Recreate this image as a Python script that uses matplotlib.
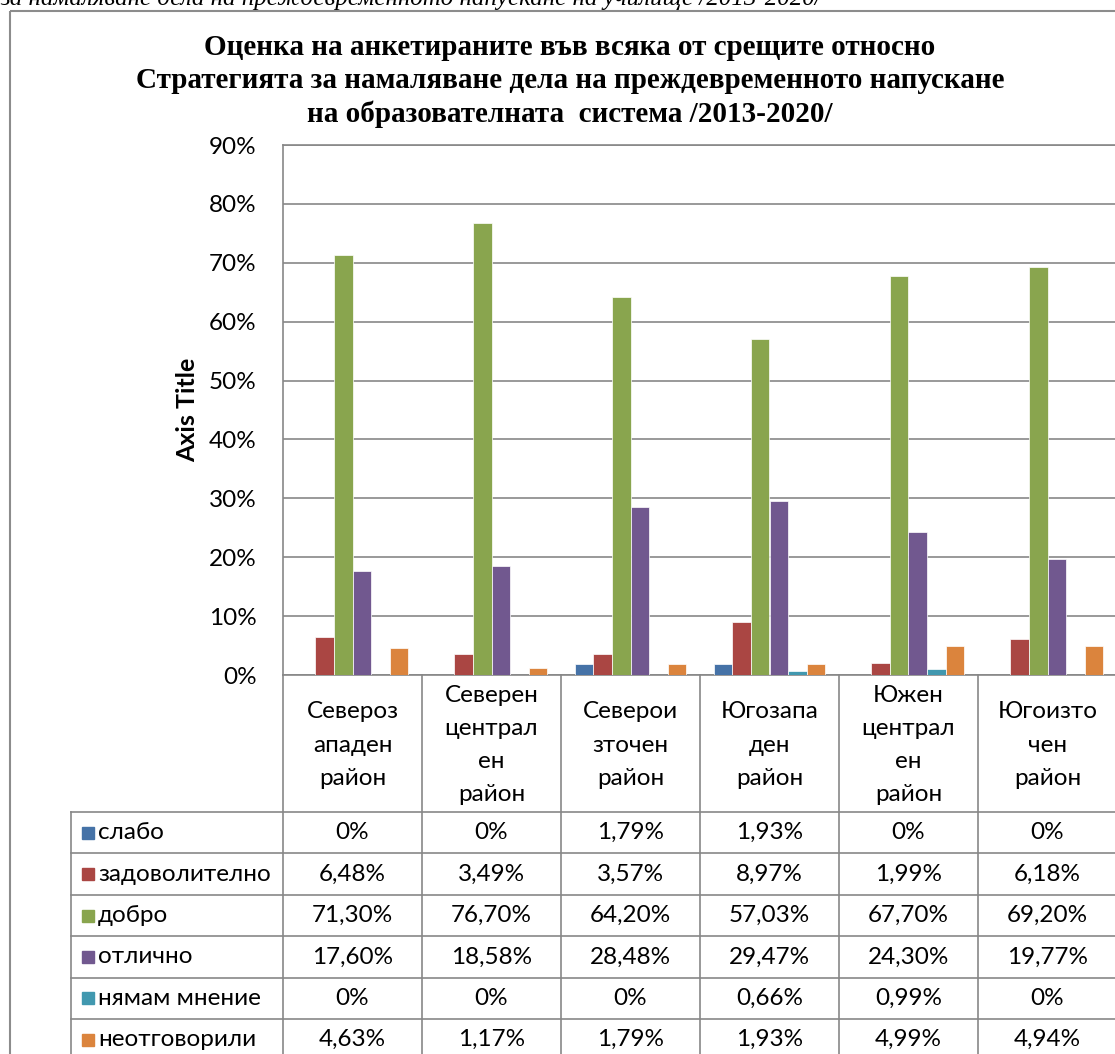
import matplotlib
matplotlib.use('Agg')
import matplotlib.pyplot as plt
from matplotlib.patches import Rectangle
import numpy as np

# данни
regions = ['Североз\nападен\nрайон', 'Северен\nцентрал\nен\nрайон', 'Северои\nзточен\nрайон',
           'Югозапа\nден\nрайон', 'Южен\nцентрал\nен\nрайон', 'Югоизто\nчен\nрайон']
series_names = ['слабо', 'задоволително', 'добро', 'отлично', 'нямам мнение', 'неотговорили']
slabo = [0, 0, 1.79, 1.93, 0, 0]
zadovolitelno = [6.48, 3.49, 3.57, 8.97, 1.99, 6.18]
dobro = [71.30, 76.70, 64.20, 57.03, 67.70, 69.20]
otlichno = [17.60, 18.58, 28.48, 29.47, 24.30, 19.77]
nyamam_mnenie = [0, 0, 0, 0.66, 0.99, 0]
neotgovorili = [4.63, 1.17, 1.79, 1.93, 4.99, 4.94]
series = [slabo, zadovolitelno, dobro, otlichno, nyamam_mnenie, neotgovorili]
yticks = [0, 10, 20, 30, 40, 50, 60, 70, 80, 90]
colors = ['#4572A7', '#AA4643', '#89A54E', '#71588F', '#4198AF', '#DB843D']

title = ('Оценка на анкетираните във всяка от срещите относно\n'
         'Стратегията за намаляване дела на преждевременното напускане\n'
         'на образователната  система /2013-2020/')
caption = 'за намаляване дела на преждевременното напускане на училище /2013-2020/'

SANS = ['Lato', 'DejaVu Sans']
SERIF = ['Liberation Serif', 'DejaVu Serif']
GRID = '#878787'
FS = 17.5

W, H = 1115, 1054
fig = plt.figure(figsize=(W / 100, H / 100), dpi=100)

def fx(px):
    return px / W

def fy(py):
    return 1 - py / H

# layout in pixels
x0, x1 = 283, 1117
ytop, ybot = 145, 675
ax = fig.add_axes([fx(x0), fy(ybot), fx(x1) - fx(x0), fy(ytop) - fy(ybot)])

n = len(regions)
x = np.arange(n)
w = 1 / 7.5
for k, vals in enumerate(series):
    ax.bar(x + (k - 2.5) * w, vals, w, color=colors[k], edgecolor='#ffffff',
           linewidth=0.5, zorder=3)

ax.set_xlim(-0.5, n - 0.5)
ax.set_ylim(0, 90)
ax.set_yticks(yticks)
ax.set_yticklabels([f'{t}%' for t in yticks], fontsize=FS, family=SANS)
ax.set_xticks([])
ax.tick_params(axis='y', length=0, pad=19)
ax.grid(axis='y', color=GRID, linewidth=1.2, zorder=0)
ax.spines['right'].set_visible(False)
for s in ['left', 'bottom', 'top']:
    ax.spines[s].set_color(GRID)
    ax.spines[s].set_linewidth(1.2)

fig.text(fx(188), fy(410), 'Axis Title', rotation=90, ha='center', va='center',
         fontsize=18, fontweight='bold', family=SANS)

fig.text(fx(570), fy(81), title, ha='center', va='center', multialignment='center',
         fontsize=21, fontweight='bold', family=SERIF, linespacing=1.3)

fig.text(fx(0), fy(5), caption, ha='left', va='baseline', fontsize=18,
         style='italic', family=SERIF)

# overlay in pixel coordinates for border and data table
ov = fig.add_axes([0, 0, 1, 1], zorder=-1)
ov.set_xlim(0, W)
ov.set_ylim(H, 0)
ov.axis('off')
ov.add_patch(Rectangle((10, 11), W + 20, H + 20, fill=False, edgecolor='#8c8c8c', linewidth=1.5))

tab = fig.add_axes([0, 0, 1, 1], zorder=5)
tab.set_xlim(0, W)
tab.set_ylim(H, 0)
tab.axis('off')
tab.patch.set_alpha(0)

cw = (x1 - x0) / n
row_h = 41.4
hdr_bot = 812
t_left = 71
for i in range(n + 1):
    tab.plot([x0 + cw * i] * 2, [ybot, H + 10], color=GRID, lw=1.2, clip_on=False)
tab.plot([t_left, t_left], [hdr_bot, H + 10], color=GRID, lw=1.2)
for r in range(len(series) + 1):
    yy = hdr_bot + row_h * r
    tab.plot([t_left, W + 5], [yy, yy], color=GRID, lw=1.2)

for i, lab in enumerate(regions):
    tab.text(x0 + cw * (i + 0.5), 745, lab, ha='center', va='center', multialignment='center',
             fontsize=FS, family=SANS, linespacing=1.72)

def fmt(v):
    return '0%' if v == 0 else f'{v:.2f}%'.replace('.', ',')

for r, (name, vals) in enumerate(zip(series_names, series)):
    yc = hdr_bot + row_h * (r + 0.5)
    tab.add_patch(Rectangle((82, yc - 6), 12, 12, color=colors[r]))
    tab.text(98, yc, name, ha='left', va='center', fontsize=FS, family=SANS)
    for i, v in enumerate(vals):
        tab.text(x0 + cw * (i + 0.5), yc, fmt(v), ha='center', va='center',
                 fontsize=FS, family=SANS)

fig.savefig('out.png', dpi=100)
